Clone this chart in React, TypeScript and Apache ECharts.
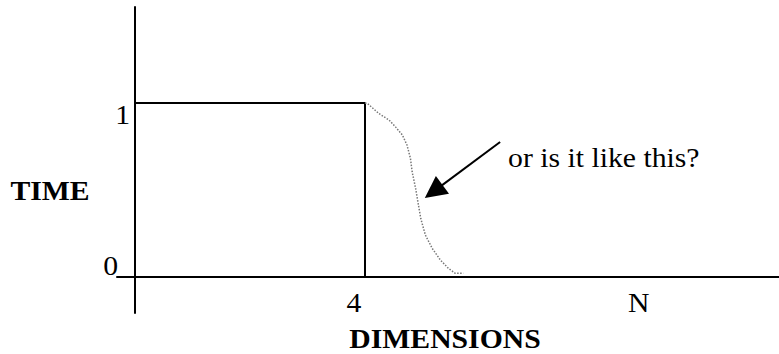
import React, { useEffect, useRef } from "react";
import * as echarts from "echarts";

// ---- data ----
const stepX = [0, 4, 4];
const stepY = [1, 1, 0];
const curveX = [4.0, 4.04, 4.24, 4.42, 4.53, 4.65, 4.73, 4.79, 4.82, 4.88, 4.92, 4.97, 5.05, 5.17, 5.31, 5.45, 5.57, 5.71];
const curveY = [1.0, 0.998, 0.94, 0.902, 0.863, 0.816, 0.759, 0.682, 0.605, 0.51, 0.432, 0.336, 0.241, 0.164, 0.098, 0.05, 0.021, 0.021];
const xTickValues = [4, 8.95];
const xTickLabels = ["4", "N"];
const yTickValues = [0, 1];
const yTickLabels = ["0", "1"];
const xAxisName = "DIMENSIONS";
const yAxisName = "TIME";
const noteText = "or is it like this?";
const arrowFrom = [6.35, 0.776];
const arrowTo = [5.04, 0.454];

const X_MIN = -0.313;
const X_MAX = 11.2;
const Y_MIN = -0.207;
const Y_MAX = 1.552;

const FONT = '"Liberation Serif", "Times New Roman", serif';
const SX = 1.1;

export default function App() {
  const ref = useRef<HTMLDivElement>(null);
  useEffect(() => {
    document.body.style.margin = "0";
    if (!ref.current) return;
    const chart = echarts.init(ref.current, null, { renderer: "svg" });
    const axisLine = { show: true, onZero: true, lineStyle: { color: "#000", width: 2 } };
    chart.setOption({
      animation: false,
      backgroundColor: "#fff",
      grid: { left: 117, right: 0, top: 7, bottom: 41, containLabel: false },
      xAxis: {
        type: "value",
        min: X_MIN,
        max: X_MAX,
        axisLine,
        axisTick: { show: false },
        axisLabel: { show: false },
        splitLine: { show: false },
      },
      yAxis: {
        type: "value",
        min: Y_MIN,
        max: Y_MAX,
        axisLine,
        axisTick: { show: false },
        axisLabel: { show: false },
        splitLine: { show: false },
      },
      series: [
        {
          type: "line",
          data: stepX.map((x, i) => [x, stepY[i]]),
          symbol: "none",
          silent: true,
          lineStyle: { color: "#000", width: 2 },
        },
        {
          type: "line",
          data: curveX.map((x, i) => [x, curveY[i]]),
          symbol: "none",
          silent: true,
          lineStyle: { color: "#777", width: 1.5, type: "dotted" },
        },
      ],
    });

    const px = (x: number, y: number) => chart.convertToPixel({ gridIndex: 0 }, [x, y]) as number[];
    const text = (t: string, x: number, y: number, align: string, bold: boolean) => ({
      type: "text",
      x,
      y,
      scaleX: SX,
      silent: true,
      style: {
        text: t,
        x: 0,
        y: 0,
        fill: "#000",
        font: `${bold ? "bold " : ""}27px ${FONT}`,
        align,
        verticalAlign: "middle",
      },
    });

    const graphics: any[] = [];
    // y tick labels
    yTickValues.forEach((v, i) => {
      const p = px(0, v);
      const dx = v === 0 ? -17 : -5;
      const dy = v === 0 ? -11 : 12;
      graphics.push(text(yTickLabels[i], p[0] + dx, p[1] + dy, "right", false));
    });
    // x tick labels
    xTickValues.forEach((v, i) => {
      const p = px(v, 0);
      graphics.push(text(xTickLabels[i], p[0] - 11, p[1] + 26, "center", false));
    });
    // axis names
    graphics.push(text(yAxisName, 50, 191, "center", true));
    graphics.push(text(xAxisName, 445, 339, "center", true));
    // arrow
    const a = px(arrowFrom[0], arrowFrom[1]);
    const b = px(arrowTo[0], arrowTo[1]);
    const dxv = b[0] - a[0];
    const dyv = b[1] - a[1];
    const len = Math.sqrt(dxv * dxv + dyv * dyv);
    const ux = dxv / len;
    const uy = dyv / len;
    const L = 22;
    const W = 11;
    const bx = b[0] - ux * L;
    const by = b[1] - uy * L;
    graphics.push({
      type: "line",
      silent: true,
      shape: { x1: a[0], y1: a[1], x2: bx + ux * 2, y2: by + uy * 2 },
      style: { stroke: "#000", lineWidth: 2 },
    });
    graphics.push({
      type: "polygon",
      silent: true,
      shape: {
        points: [
          [b[0], b[1]],
          [bx - uy * W, by + ux * W],
          [bx + uy * W, by - ux * W],
        ],
      },
      style: { fill: "#000" },
    });
    graphics.push(text(noteText, a[0] + 8, a[1] + 16, "left", false));

    chart.setOption({ graphic: graphics });
    return () => chart.dispose();
  }, []);
  return <div ref={ref} style={{ width: 779, height: 354 }} />;
}
